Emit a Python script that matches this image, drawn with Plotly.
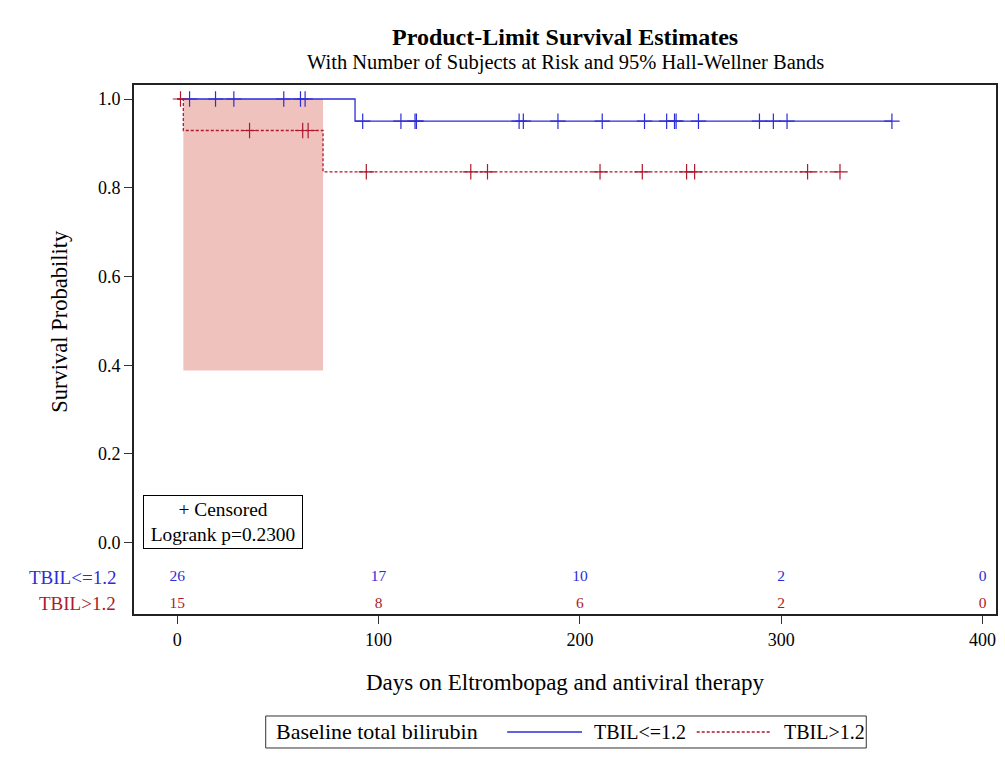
import plotly.graph_objects as go

# Kaplan-Meier step curves (time in days, survival probability)
low_step_t = [0, 88.3, 355.0]
low_step_s = [1.0, 0.95, 0.95]
high_step_t = [0, 3.0, 72.4, 329.2]
high_step_s = [1.0, 0.929, 0.836, 0.836]

# Censored observations
low_cens_t = [6.1, 19.0, 28.1, 52.9, 61.2, 63.5, 92.1, 111.1, 118.1, 118.8,
              169.8, 171.9, 189.1, 211.1, 232.1, 243.1, 247.0, 247.8, 258.9,
              289.2, 296.1, 302.9, 355.0]
low_cens_s = [1.0] * 6 + [0.95] * 17
high_cens_t = [1.6, 35.9, 62.3, 65.0, 93.9, 145.8, 154.1, 210.0, 231.0,
               253.0, 257.0, 313.1, 329.2]
high_cens_s = [1.0, 0.929, 0.929, 0.929] + [0.836] * 9

# 95% Hall-Wellner band (TBIL>1.2)
band_t = [3.0, 72.4]
band_lower = [0.388, 0.388]
band_upper = [1.0, 1.0]

# Number at risk
risk_t = [0, 100, 200, 300, 400]
risk_low = [26, 17, 10, 2, 0]
risk_high = [15, 8, 6, 2, 0]

group_names = ["TBIL<=1.2", "TBIL>1.2"]
BLUE = "rgb(45,45,215)"
RED = "rgb(175,25,45)"
RED_DASH = "3px,2px"
SERIF = "Liberation Serif"

fig = go.Figure()

# band
fig.add_trace(go.Scatter(x=band_t, y=band_upper, mode="lines", line=dict(width=0),
                         line_shape="hv", showlegend=False, hoverinfo="skip"))
fig.add_trace(go.Scatter(x=band_t, y=band_lower, mode="lines", line=dict(width=0),
                         line_shape="hv", fill="tonexty",
                         fillcolor="rgb(240,194,190)", showlegend=False,
                         hoverinfo="skip"))

# survival curves
fig.add_trace(go.Scatter(x=low_step_t, y=low_step_s, mode="lines", line_shape="hv",
                         line=dict(color=BLUE, width=1.3), name=group_names[0]))
fig.add_trace(go.Scatter(x=high_step_t, y=high_step_s, mode="lines", line_shape="hv",
                         line=dict(color=RED, width=1.3, dash=RED_DASH),
                         name=group_names[1]))

# censor marks
fig.add_trace(go.Scatter(x=low_cens_t, y=low_cens_s, mode="markers",
                         marker=dict(symbol="cross-thin", size=11,
                                     line=dict(color=BLUE, width=1.2)),
                         showlegend=False, hoverinfo="skip"))
fig.add_trace(go.Scatter(x=high_cens_t, y=high_cens_s, mode="markers",
                         marker=dict(symbol="cross-thin", size=11,
                                     line=dict(color=RED, width=1.2)),
                         showlegend=False, hoverinfo="skip"))

# at-risk rows
ROW_LOW, ROW_HIGH = -0.0785, -0.1375
fig.add_trace(go.Scatter(x=risk_t, y=[ROW_LOW] * len(risk_t), mode="text",
                         text=[str(v) for v in risk_low],
                         textfont=dict(family=SERIF, size=15.5, color=BLUE),
                         showlegend=False, hoverinfo="skip"))
fig.add_trace(go.Scatter(x=risk_t, y=[ROW_HIGH] * len(risk_t), mode="text",
                         text=[str(v) for v in risk_high],
                         textfont=dict(family=SERIF, size=15.5, color=RED),
                         showlegend=False, hoverinfo="skip"))

# legend box below the plot (paper coordinates)
LEG_Y0, LEG_Y1 = -0.2533, -0.1928
LEG_YC = (LEG_Y0 + LEG_Y1) / 2
shapes = [
    dict(type="rect", xref="paper", yref="paper", x0=0.1528, x1=0.8495,
         y0=LEG_Y0, y1=LEG_Y1, line=dict(color="#333", width=1)),
    dict(type="line", xref="paper", yref="paper", x0=0.4329, x1=0.5197,
         y0=LEG_YC, y1=LEG_YC, line=dict(color=BLUE, width=1.3)),
    dict(type="line", xref="paper", yref="paper", x0=0.6528, x1=0.7384,
         y0=LEG_YC, y1=LEG_YC, line=dict(color=RED, width=1.3, dash=RED_DASH)),
]

annotations = [
    dict(text="<b>Product-Limit Survival Estimates</b>", xref="paper", yref="paper",
         x=0.5, y=1.0907, xanchor="center", yanchor="middle", showarrow=False,
         font=dict(family=SERIF, size=24, color="black")),
    dict(text="With Number of Subjects at Risk and 95% Hall-Wellner Bands",
         xref="paper", yref="paper", x=0.5, y=1.0416, xanchor="center",
         yanchor="middle", showarrow=False,
         font=dict(family=SERIF, size=20.5, color="black")),
    dict(text="Survival Probability", xref="paper", yref="y", x=-0.086, y=0.5,
         textangle=-90, xanchor="center", yanchor="middle", showarrow=False,
         font=dict(family=SERIF, size=22.5, color="black")),
    dict(text="Days on Eltrombopag and antiviral therapy", xref="paper",
         yref="paper", x=0.5, y=-0.1304, xanchor="center", yanchor="middle",
         showarrow=False, font=dict(family=SERIF, size=23, color="black")),
    dict(text=group_names[0], xref="paper", yref="y", x=-0.0185, y=ROW_LOW,
         xanchor="right", yanchor="middle", showarrow=False,
         font=dict(family=SERIF, size=19, color=BLUE)),
    dict(text=group_names[1], xref="paper", yref="y", x=-0.0185, y=ROW_HIGH,
         xanchor="right", yanchor="middle", showarrow=False,
         font=dict(family=SERIF, size=19, color=RED)),
    dict(text="+ Censored<br>Logrank p=0.2300", xref="x", yref="y", x=-17.1,
         y=-0.0145, xanchor="left", yanchor="bottom", showarrow=False,
         align="center", bordercolor="black", borderwidth=1, borderpad=3,
         width=152, bgcolor="white",
         font=dict(family=SERIF, size=19.4, color="black")),
    # legend texts
    dict(text="Baseline total bilirubin", xref="paper", yref="paper", x=0.162,
         y=LEG_YC, xanchor="left", yanchor="middle", showarrow=False,
         font=dict(family=SERIF, size=22, color="black")),
    dict(text=group_names[0], xref="paper", yref="paper", x=0.5312, y=LEG_YC,
         xanchor="left", yanchor="middle", showarrow=False,
         font=dict(family=SERIF, size=20, color="black")),
    dict(text=group_names[1], xref="paper", yref="paper", x=0.7523, y=LEG_YC,
         xanchor="left", yanchor="middle", showarrow=False,
         font=dict(family=SERIF, size=20, color="black")),
]

fig.update_layout(
    width=1005, height=760,
    margin=dict(l=134, r=7, t=85, b=146),
    paper_bgcolor="white", plot_bgcolor="white",
    font=dict(family=SERIF, color="black"),
    annotations=annotations,
    shapes=shapes,
    showlegend=False,
)

fig.update_xaxes(range=[-21.5, 406.7], tickvals=risk_t, ticks="outside", ticklen=8,
                 tickcolor="#333", showgrid=False, zeroline=False, showline=True,
                 linecolor="#222", linewidth=2, mirror=True,
                 tickfont=dict(family=SERIF, size=18, color="black"))
fig.update_yaxes(range=[-0.1607, 1.0316], tickvals=[0, 0.2, 0.4, 0.6, 0.8, 1.0],
                 ticktext=["0.0", "0.2", "0.4", "0.6", "0.8", "1.0"],
                 ticks="outside", ticklen=8, tickcolor="#333", showgrid=False,
                 zeroline=False, showline=True, linecolor="#222", linewidth=2,
                 mirror=True, tickfont=dict(family=SERIF, size=18, color="black"))

fig.write_html("out.html")
